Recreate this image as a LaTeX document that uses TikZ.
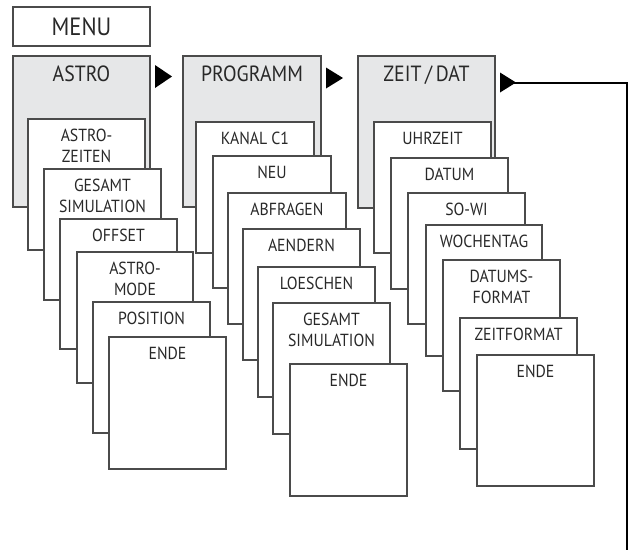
\documentclass[tikz,border=0pt]{standalone}
\usepackage{fontspec}
\setmainfont{PT Sans}[FakeStretch=0.9]
\definecolor{hdr}{RGB}{230,231,232}
\definecolor{ln}{RGB}{75,75,75}
\definecolor{txt}{RGB}{40,40,40}
\newcommand{\mkbox}[7]{%
  \node[#6, anchor=north west, inner sep=0pt, outer sep=0pt,
        minimum width=#4pt, minimum height=#5pt] (#1) at (#2,#3) {};
  \node[lbl] (#1t) at ([yshift=-10pt]#1.north) {#7};%
}
\newcommand{\mkhead}[7]{%
  \node[#6, anchor=north west, inner sep=0pt, outer sep=0pt,
        minimum width=#4pt, minimum height=#5pt] (#1) at (#2,#3) {};
  \node[hlbl] (#1t) at ([yshift=-10pt]#1.north) {#7};%
}
\tikzset{
  box/.style={draw=ln, line width=1.1pt, fill=white},
  hbox/.style={draw=ln, line width=1.1pt, fill=hdr},
  lbl/.style={anchor=north, inner sep=0pt, align=center, text=txt,
              font=\fontsize{17.5}{20.5}\selectfont},
  hlbl/.style={lbl, font=\fontsize{22}{26}\selectfont},
  tri/.style={fill=black, draw=none},
  ret/.style={draw=black, line width=2pt},
}
\begin{document}
\begin{tikzpicture}[x=1pt,y=-1pt]
\useasboundingbox (0,0) rectangle (628,550);
% MENU
\node[box, anchor=north west, inner sep=0pt, outer sep=0pt,
      minimum width=137pt, minimum height=39pt,
      font=\fontsize{25}{28}\selectfont, text=txt] (menu) at (13,7) {MENU};
% headers
\mkhead{astro}{13}{56}{137}{151}{hbox}{ASTRO}
\mkhead{prog}{183}{56}{138}{151}{hbox}{PROGRAMM}
\mkhead{zeit}{358}{56}{137}{152}{hbox}{ZEIT\,/\,DAT}
% column 1
\mkbox{a1}{28}{119}{117}{131}{box}{ASTRO-\\ZEITEN}
\mkbox{a2}{44}{169}{117}{131}{box}{GESAMT\\SIMULATION}
\mkbox{a3}{60}{219}{117}{130}{box}{OFFSET}
\mkbox{a4}{77}{252}{116}{131}{box}{ASTRO-\\MODE}
\mkbox{a5}{93}{302}{117}{131}{box}{POSITION}
\mkbox{a6}{109}{337}{117}{132}{box}{ENDE}
% column 2
\mkbox{p1}{196}{122}{118}{131}{box}{KANAL C1}
\mkbox{p2}{213}{156}{118}{132}{box}{NEU}
\mkbox{p3}{228}{193}{118}{131}{box}{ABFRAGEN}
\mkbox{p4}{243}{229}{117}{131}{box}{AENDERN}
\mkbox{p5}{258}{267}{117}{130}{box}{LOESCHEN}
\mkbox{p6}{273}{303}{117}{131}{box}{GESAMT\\SIMULATION}
\mkbox{p7}{290}{364}{117}{132}{box}{ENDE}
% column 3
\mkbox{z1}{374}{122}{117}{131}{box}{UHRZEIT}
\mkbox{z2}{391}{158}{117}{131}{box}{DATUM}
\mkbox{z3}{408}{193}{117}{131}{box}{SO-WI}
\mkbox{z4}{426}{225}{116}{131}{box}{WOCHENTAG}
\mkbox{z5}{443}{260}{117}{131}{box}{DATUMS-\\FORMAT}
\mkbox{z6}{460}{318}{117}{131}{box}{ZEITFORMAT}
\mkbox{z7}{477}{355}{117}{131}{box}{ENDE}
% arrows
\fill[tri] (155,65) -- (172,76.5) -- (155,88) -- cycle;
\fill[tri] (326,67.5) -- (343,78) -- (326,88.5) -- cycle;
\fill[tri] (500,72.5) -- (516,82.5) -- (500,92.5) -- cycle;
\coordinate (t3) at (514,82.5);
\coordinate (r1) at (627,82.5);
\coordinate (r2) at (627,550);
\draw[ret] (t3) -- (r1) -- (r2);
\end{tikzpicture}
\end{document}
